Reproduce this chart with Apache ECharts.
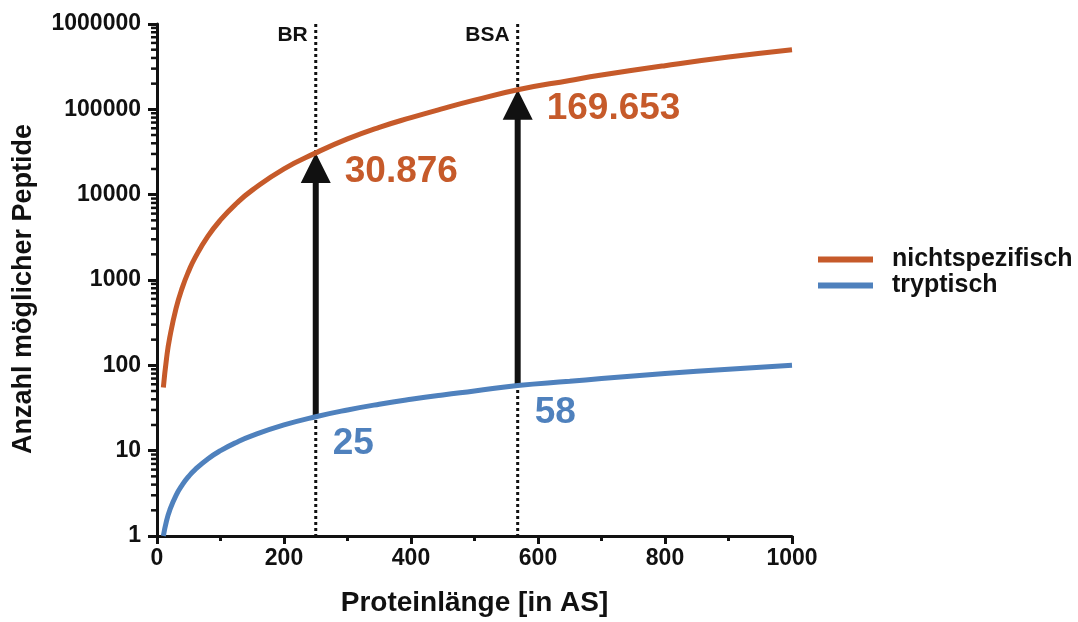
<!DOCTYPE html>
<html>
<head>
<meta charset="utf-8">
<script src="https://cdn.jsdelivr.net/npm/echarts@6/dist/echarts.min.js"></script>
<style>
  html, body { margin: 0; padding: 0; background: #ffffff; }
  #chart { width: 1078px; height: 622px; }
</style>
</head>
<body>
<div id="chart"></div>
<script>
// Protein length (amino acids) at which the curves are sampled
const proteinLength = [10, 15, 20, 30, 40, 50, 60, 80, 100, 125, 150, 200, 250, 300, 350, 400, 450, 500, 568, 650, 700, 800, 900, 1000];
// Possible peptides, non-specific cleavage
const nonspecific = [55, 120, 210, 465, 820, 1275, 1830, 3240, 5050, 7875, 11300, 20100, 30876, 45000, 61500, 80000, 102000, 128000, 169653, 218000, 252000, 325000, 410000, 500000];
// Possible peptides, tryptic cleavage
const tryptic = [1, 1.5, 2, 3, 4, 5, 6, 8, 10, 12.5, 15, 20, 25, 30, 35, 40, 45, 50, 58, 65, 70, 80, 90, 100];

// Marked proteins
const markerNames = ['BR', 'BSA'];
const markerLengths = [250, 568];
const markerTryptic = [25, 58];
const markerNonspecific = [30876, 169653];
const markerNonspecificText = ['30.876', '169.653'];
const markerTrypticText = ['25', '58'];

const xTicks = [0, 200, 400, 600, 800, 1000];
const yMinorTicks = [];
[1, 10, 100, 1000, 10000, 100000].forEach(function (d) {
  for (let k = 2; k <= 9; k++) yMinorTicks.push(d * k);
});

const ORANGE = '#C65A2A';
const BLUE = '#4F81BD';
const INK = '#111111';
const FONT = '"Liberation Sans", Arial, sans-serif';

const chart = echarts.init(document.getElementById('chart'));

const markerData = markerNames.map(function (n, i) {
  return [markerLengths[i], markerTryptic[i], markerNonspecific[i]];
});

function renderMarker(params, api) {
  const i = params.dataIndex;
  const x = api.value(0);
  const low = api.coord([x, api.value(1)]);
  const high = api.coord([x, api.value(2)]);
  const top = api.coord([x, 1000000]);
  const bottom = api.coord([x, 1]);
  const px = low[0];
  const headH = 30, headW = 15;
  return {
    type: 'group',
    children: [
      {
        type: 'line',
        shape: { x1: px, y1: top[1], x2: px, y2: bottom[1] },
        style: { stroke: INK, lineWidth: 3, lineDash: [3, 3] }
      },
      {
        type: 'line',
        shape: { x1: px, y1: low[1], x2: px, y2: high[1] + headH - 2 },
        style: { stroke: INK, lineWidth: 6 }
      },
      {
        type: 'polygon',
        shape: { points: [[px, high[1]], [px - headW, high[1] + headH], [px + headW, high[1] + headH]] },
        style: { fill: INK }
      },
      {
        type: 'text',
        style: {
          text: markerNames[i], x: px - 8, y: top[1] + 11,
          align: 'right', verticalAlign: 'middle',
          fill: INK, font: 'bold 21px ' + FONT
        }
      },
      {
        type: 'text',
        style: {
          text: markerNonspecificText[i], x: px + 29, y: high[1] + 19,
          align: 'left', verticalAlign: 'middle',
          fill: ORANGE, font: 'bold 37px ' + FONT
        }
      },
      {
        type: 'text',
        style: {
          text: markerTrypticText[i], x: px + 17, y: low[1] + 27,
          align: 'left', verticalAlign: 'middle',
          fill: BLUE, font: 'bold 37px ' + FONT
        }
      }
    ]
  };
}

function renderMinorTick(params, api) {
  const p = api.coord([0, api.value(0)]);
  return {
    type: 'line',
    shape: { x1: p[0] - 6, y1: p[1], x2: p[0], y2: p[1] },
    style: { stroke: INK, lineWidth: 2.5 }
  };
}

const option = {
  backgroundColor: '#ffffff',
  animation: false,
  textStyle: { fontFamily: FONT },
  grid: { left: 157, right: 286, top: 24, bottom: 85, containLabel: false },
  legend: {
    orient: 'vertical',
    left: 813,
    top: 242,
    itemWidth: 55,
    itemHeight: 6,
    itemGap: 1,
    icon: 'rect',
    data: ['nichtspezifisch', 'tryptisch'],
    textStyle: { color: INK, fontSize: 25, fontWeight: 'bold', fontFamily: FONT, padding: [0, 0, 0, 14] }
  },
  xAxis: {
    type: 'value',
    min: 0,
    max: 1000,
    interval: 200,
    name: 'Proteinlänge [in AS]',
    nameLocation: 'middle',
    nameGap: 53,
    nameTextStyle: { color: INK, fontSize: 28, fontWeight: 'bold', fontFamily: FONT },
    axisLine: { show: true, onZero: false, lineStyle: { color: INK, width: 3 } },
    axisTick: { show: true, length: 8, lineStyle: { color: INK, width: 3 } },
    minorTick: { show: true, splitNumber: 2, length: 5, lineStyle: { color: INK, width: 3 } },
    axisLabel: {
      color: INK, fontSize: 23, fontWeight: 'bold', fontFamily: FONT, margin: 11,
      formatter: function (v) { return xTicks.indexOf(v) >= 0 ? String(v) : ''; }
    },
    splitLine: { show: false }
  },
  yAxis: {
    type: 'log',
    logBase: 10,
    min: 1,
    max: 1000000,
    name: 'Anzahl möglicher Peptide',
    nameLocation: 'middle',
    nameGap: 120,
    nameTextStyle: { color: INK, fontSize: 27, fontWeight: 'bold', fontFamily: FONT, padding: [0, 18, 0, 0] },
    axisLine: { show: true, lineStyle: { color: INK, width: 3 } },
    axisTick: { show: true, length: 9, lineStyle: { color: INK, width: 3 } },
    axisLabel: {
      color: INK, fontSize: 23, fontWeight: 'bold', fontFamily: FONT, margin: 16,
      formatter: function (v) { return String(Math.round(v)); }
    },
    splitLine: { show: false }
  },
  series: [
    {
      name: 'marker',
      type: 'custom',
      z: 1,
      renderItem: renderMarker,
      data: markerData,
      silent: true
    },
    {
      name: 'minor',
      type: 'custom',
      z: 1,
      renderItem: renderMinorTick,
      data: yMinorTicks.map(function (v) { return [v]; }),
      encode: { y: 0 },
      silent: true
    },
    {
      name: 'nichtspezifisch',
      type: 'line',
      z: 3,
      smooth: true,
      showSymbol: false,
      color: ORANGE,
      lineStyle: { color: ORANGE, width: 5 },
      data: proteinLength.map(function (x, i) { return [x, nonspecific[i]]; })
    },
    {
      name: 'tryptisch',
      type: 'line',
      z: 3,
      smooth: true,
      showSymbol: false,
      color: BLUE,
      lineStyle: { color: BLUE, width: 5 },
      data: proteinLength.map(function (x, i) { return [x, tryptic[i]]; })
    }
  ]
};

chart.setOption(option);
</script>
</body>
</html>
